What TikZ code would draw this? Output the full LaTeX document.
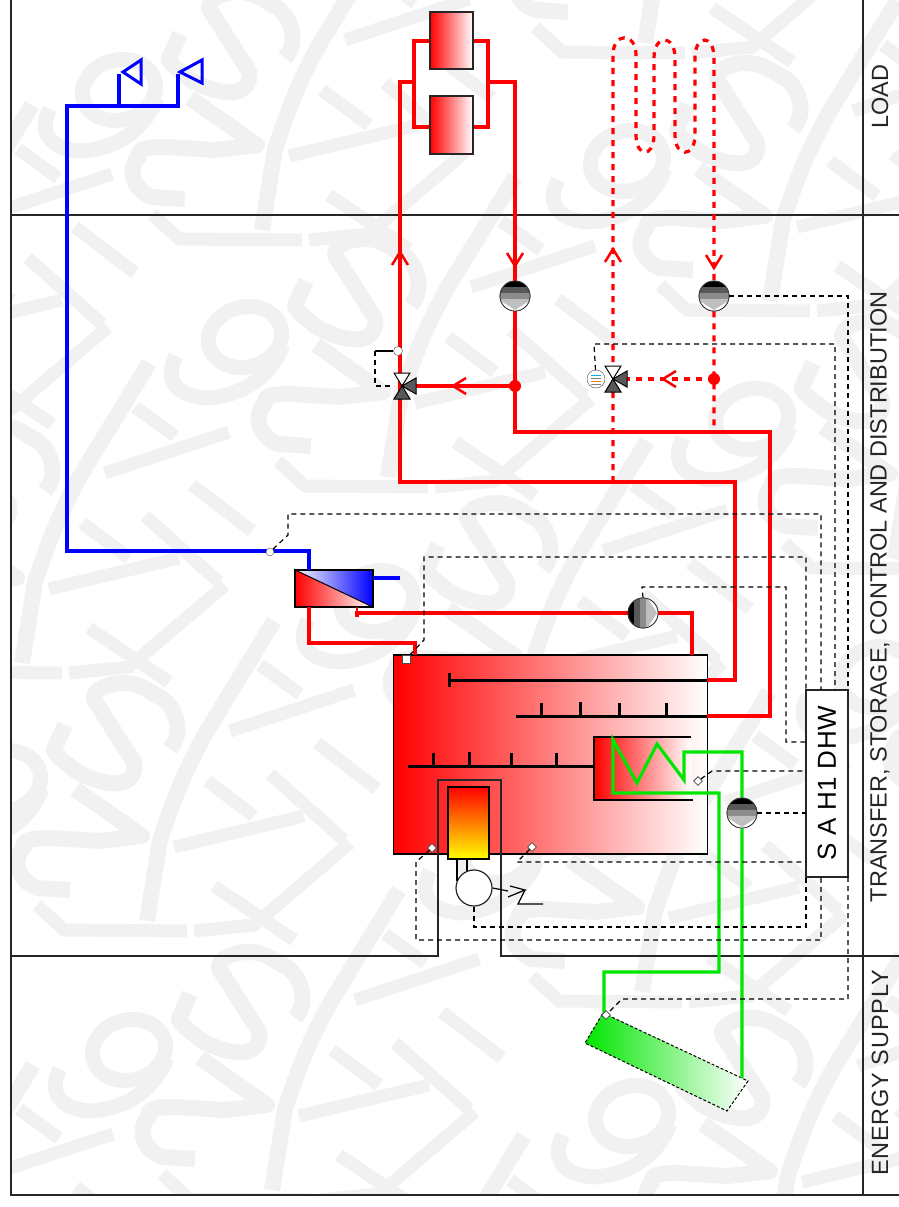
\documentclass[tikz,border=0pt]{standalone}
\usepackage{fontspec}
\setmainfont{Liberation Sans}
\usetikzlibrary{shapes.geometric}
\definecolor{markgray}{RGB}{241,241,241}
\definecolor{solargreen}{RGB}{0,230,0}
\tikzset{
    hot/.style={draw=red, line width=3.2pt},
    hotdash/.style={draw=red, line width=3.2pt, dash pattern=on 6pt off 6pt},
    cold/.style={draw=blue, line width=3.2pt},
    solar/.style={draw=solargreen, line width=3.2pt},
    wire/.style={draw=black, line width=1.2pt, dash pattern=on 5pt off 4pt},
    frameline/.style={draw=black!85, line width=1.5pt},
    lance/.style={draw=black, line width=3pt},
    sensor/.style={diamond, draw=black!70, fill=white, line width=.8pt, inner sep=0pt, minimum size=9pt},
    radiator/.style={rectangle, draw=black!85, line width=1.2pt, left color=red, right color=white,
        inner sep=0pt, minimum width=43pt, minimum height=57pt},
    pumpbase/.style={circle, draw=black!80, fill=white, line width=.8pt, inner sep=0pt, minimum size=30pt},
    pumpdown/.style={pumpbase,
        path picture={
            \begin{scope}[shift={(path picture bounding box.center)}]
                \fill[black] (-16,-16) rectangle (16,-9);
                \fill[black!65] (-16,-9) rectangle (16,-3);
                \fill[black!45] (-16,-3) rectangle (16,3);
                \fill[black!25] (-16,3) rectangle (16,5);
                \fill[black!25] (-14,5) -- (14,5) -- (0,14) -- cycle;
            \end{scope}}},
    pumpright/.style={pumpbase,
        path picture={
            \begin{scope}[shift={(path picture bounding box.center)}]
                \fill[black] (-16,-16) rectangle (-9,16);
                \fill[black!65] (-9,-16) rectangle (-3,16);
                \fill[black!45] (-3,-16) rectangle (3,16);
                \fill[black!25] (3,-16) rectangle (5,16);
                \fill[black!25] (5,-14) -- (5,14) -- (14,0) -- cycle;
            \end{scope}}},
    sidelabel/.style={rotate=90, font=\fontsize{23.5}{24}\selectfont, text=black!85},
    threeway/.pic={
        \draw[black, fill=white, line width=1pt] (-8,-13) -- (8,-13) -- (0,0) -- cycle;
        \draw[black, fill=black!65, line width=1pt] (-8,13) -- (8,13) -- (0,0) -- cycle;
        \draw[black, fill=black!65, line width=1pt] (14,-8) -- (14,8) -- (0,0) -- cycle;
    },
    chevron/.pic={
        \draw[red, line width=2.5pt] (-8,13) -- (0,0) -- (8,13);
    },
    watermark/.pic={
        \draw[markgray, line width=16pt, line join=round]
            (53,14) .. controls (70,-5) and (55,-35) .. (40,-39) .. controls (25,-50) and (15,-52) .. (7,-52)
            .. controls (-15,-52) and (-30,-40) .. (-20,-31) -- (-3,-4) -- (17,27)
            .. controls (20,45) and (5,50) .. (-7,48) .. controls (-25,46) and (-45,35) .. (-47,31)
            .. controls (-60,22) and (-66,15) .. (-62,12) -- (-52,-10);
        \draw[markgray, line width=16pt, line join=round]
            (-42,54) -- (25,101) -- (-17,106) -- (-67,103) .. controls (-85,103) and (-95,105) .. (-93,112)
            .. controls (-105,125) and (-100,145) .. (-80,153) -- (-47,155);
        \draw[markgray, line width=16pt, line join=round]
            (157,-114) -- (90,-4) .. controls (65,40) and (55,70) .. (43,105) -- (30,186);
        \draw[markgray, line width=13pt] (-80,170) -- (-53,195) -- (70,196);
        \draw[markgray, line width=13pt] (233,108) -- (137,190) -- (77,196);
        \draw[markgray, line width=13pt] (97,151) -- (177,205);
        \draw[markgray, line width=13pt] (90,46) -- (137,81);
        \draw[markgray, line width=13pt] (57,112) -- (187,81);
        \draw[markgray, line width=13pt] (153,39) -- (227,105);
        \draw[markgray, line width=13pt] (200,8) -- (260,54);
        \draw[markgray, line width=13pt] (143,-70) -- (183,-41);
        \draw[markgray, line width=13pt] (113,-4) -- (237,-45);
        \draw[markgray, line width=15pt, rotate around={15:(-113,46)}] (-113,46) ellipse (37 and 30);
        \draw[markgray, line width=15pt, line join=round]
            (-75,54) .. controls (-85,80) and (-110,105) .. (-152,107)
            .. controls (-180,105) and (-195,90) .. (-182,65);
    },
}
\begin{document}
\begin{tikzpicture}[x=1pt, y=-1pt]
    \useasboundingbox (0,0) rectangle (899,1207);
    % background pattern
    \begin{scope}
        \clip (11,0) rectangle (899,1195);
        \foreach \markx/\marky in {232/44, 358/291, 490/555, 612/806, 745/1070, -8/477, 117/735, 242/1004,
                367/1250, 740/115, 865/373, 990/631, 615/-143, 107/-214, -125/219, -124/1179, 1115/889, 870/1327} {
            \pic at (\markx,\marky) {watermark};
        }
    \end{scope}

    % frame
    \draw[frameline] (11,0) -- (11,1195) -- (899,1195);
    \draw[frameline] (863,0) -- (863,1195);
    \draw[frameline] (11,215) -- (899,215);
    \draw[frameline] (11,956) -- (438,956) -- (438,780) -- (501,780) -- (501,956) -- (899,956);
    \node[sidelabel] (loadlabel) at (880,97) {LOAD};
    \node[sidelabel] (transferlabel) at (880,597) {TRANSFER, STORAGE, CONTROL AND DISTRIBUTION};
    \node[sidelabel] (energylabel) at (880,1073) {\addfontfeature{LetterSpace=3.5}ENERGY SUPPLY};

    % tank
    \node[rectangle, draw=black, line width=1.2pt, left color=red, right color=white, inner sep=0pt,
        minimum width=314pt, minimum height=199pt] (tank) at (550.5,754.5) {};
    \shade[left color=red, right color=white] (594,737) rectangle (691,800);
    \draw[black, line width=1.5pt] (691,737) -- (594,737) -- (594,800) -- (693,800);
    \draw[frameline] (438,855) -- (438,780) -- (501,780) -- (501,855);

    \coordinate (lanceA) at (707,680);
    \coordinate (lanceB) at (707,716);
    \draw[lance] (449,680) -- (lanceA);
    \draw[lance] (449,673) -- (449,687);
    \draw[lance] (516,716) -- (lanceB);
    \foreach \tickx/\ticky in {541/703, 580/702, 619/703, 666/703} {
        \draw[lance] (\tickx,\ticky) -- (\tickx,716);
    }
    \draw[lance] (408,766) -- (594,766);
    \foreach \tickx/\ticky in {433/753, 469/752, 511/753, 556/753} {
        \draw[lance] (\tickx,\ticky) -- (\tickx,766);
    }

    % burner
    \node[rectangle, draw=black, line width=1.2pt, inner sep=0pt, minimum width=41pt, minimum height=72pt,
        top color=red, bottom color=yellow, middle color=orange] (fire) at (468.5,823) {};
    \node[circle, draw=black!85, fill=white, line width=1.2pt, inner sep=0pt, minimum size=36pt] (burner) at (474,888) {};
    \draw[black, line width=1.2pt] (457,860) -- (457,881);
    \draw[black, line width=1.2pt] (467,860) -- (467,871);
    \draw[black, line width=1.2pt] (burner.east) -- (508,891);
    \draw[black, line width=1.2pt] (510,886) -- (525,890) -- (508,897);
    \draw[black, line width=1.2pt] (525,890) -- (518,904) -- (543,904);

    % collector
    \shade[left color=solargreen, right color=white] (603,1013) -- (748,1081) -- (727,1111) -- (585,1043) -- cycle;
    \draw[black, line width=1pt, densely dashed] (603,1013) -- (748,1081) -- (727,1111) -- (585,1043) -- cycle;
    \coordinate (collectorA) at (604,1016);
    \coordinate (collectorB) at (742,1078);

    % heat exchanger
    \node[rectangle, inner sep=0pt, minimum width=78pt, minimum height=37pt] (hx) at (334,588.5) {};
    \shade[left color=white, right color=blue] (hx.north west) -- (hx.north east) -- (hx.south east) -- cycle;
    \shade[left color=red, right color=white] (hx.north west) -- (hx.south west) -- (hx.south east) -- cycle;
    \draw[black, line width=1.5pt] (hx.north west) rectangle (hx.south east);
    \draw[black, line width=1pt] (hx.north west) -- (hx.south east);

    % radiators
    \node[radiator] (radA) at (451.5,40.5) {};
    \node[radiator, minimum height=58pt] (radB) at (451.5,125) {};

    % components on the pipes
    \node[pumpdown] (pumpA) at (515,296) {};
    \node[pumpdown] (pumpB) at (714,296) {};
    \node[pumpdown] (pumpC) at (742,813) {};
    \node[pumpright] (pumpD) at (643,613) {};
    \coordinate (valveA) at (402,386);
    \coordinate (valveB) at (613,379);
    \coordinate (teeA) at (515,386);
    \coordinate (teeB) at (714,379);

    % hot water pipes
    \draw[hot] (lanceA) -- (735,680) -- (735,482) -- (400,482) -- (400,82) -- (414,82);
    \draw[hot] (lanceB) -- (770,716) -- (770,432) -- (515,432) -- (teeA) -- (pumpA) -- (515,82) -- (488,82);
    \draw[hot] (teeA) -- (valveA);
    \draw[hot] (radA.west |- 0,41) -- (414,41) -- (414,127) -- (radB.west |- 0,127);
    \draw[hot] (radA.east |- 0,41) -- (488,41) -- (488,127) -- (radB.east |- 0,127);
    \fill[red] (teeA) circle (6);
    \fill[red] (teeB) circle (6);

    % floor heating
    \draw[hotdash] (613,482) -- (613,55) .. controls (613,32) and (636,32) .. (636,55) -- (636,135)
        .. controls (636,158) and (654,158) .. (654,135) -- (654,58)
        .. controls (654,34) and (675,34) .. (675,58) -- (675,135)
        .. controls (675,158) and (695,158) .. (695,135) -- (695,58)
        .. controls (695,34) and (714,34) .. (714,58) -- (pumpB) -- (714,432);
    \draw[hotdash] (teeB) -- (valveB);

    % primary circuit
    \draw[hot] (hx.south -| 309,0) -- (309,643) -- (415,643) -- (415,655);
    \draw[hot] (357,617) -- (357,613) -- (pumpD) -- (692,613) -- (692,655);
    \draw[hot, line width=1.5pt] (357,607) -- (357,613);

    % cold water
    \draw[cold] (hx.north -| 309,0) -- (309,551) -- (67,551) -- (67,106) -- (178,106) -- (178,74);
    \draw[cold] (119,106) -- (119,74);
    \draw[cold] (hx.east |- 0,578) -- (400,578);
    \draw[draw=blue, line width=3pt, line join=miter] (123,72) -- (141,60) -- (141,84) -- cycle;
    \draw[draw=blue, line width=3pt, line join=miter] (180,72) -- (202,60) -- (202,83) -- cycle;

    % solar circuit
    \draw[solar] (collectorA) -- (604,972) -- (719,972) -- (719,793) -- (613,793) -- (613,740)
        -- (637,783) -- (657,744) -- (684,780) -- (684,752) -- (742,752) -- (pumpC) -- (collectorB);

    \foreach \chevx/\chevy/\chevrot in {400/252/0, 613/249/0, 515/266/180, 714/268/180, 453/386/90, 663/379/90} {
        \pic[rotate=\chevrot] at (\chevx,\chevy) {chevron};
    }
    \node[pumpdown] at (pumpA) {};
    \node[pumpdown] at (pumpB) {};
    \node[pumpdown] at (pumpC) {};
    \node[pumpright] at (pumpD) {};
    \pic at (valveA) {threeway};
    \pic at (valveB) {threeway};

    % controller
    \node[rectangle, rotate=90, draw=black!85, fill=white, line width=1.5pt, inner sep=0pt,
        minimum width=187pt, minimum height=42pt, font=\fontsize{26}{28}\selectfont] (ctrl) at (827,783.5)
        {\addfontfeature{LetterSpace=2}S A H1 DHW};

    % sensors
    \node[circle, draw=black!70, fill=white, inner sep=0pt, minimum size=8pt] (flowsens) at (270,552) {};
    \node[circle, draw=black!70, fill=white, inner sep=0pt, minimum size=9pt] (mixsens) at (398,351) {};
    \node[rectangle, draw=black!70, fill=white, inner sep=0pt, minimum size=8pt] (tanktop) at (406,659) {};
    \node[sensor] (tankleft) at (432,848) {};
    \node[sensor] (tankmid) at (532,847) {};
    \node[sensor] (coilsens) at (698,781) {};
    \node[sensor] (colsens) at (606,1015) {};
    \node[circle, draw=black!70, fill=white, inner sep=0pt, minimum size=18pt] (actuator) at (596,379) {};
    \foreach \stripy/\stripc in {375/cyan, 378/gray, 381/orange, 384/gray} {
        \draw[\stripc, line width=.8pt] (591,\stripy) -- (601,\stripy);
    }

    % control wires
    \draw[wire] (flowsens) -- (288,535) -- (288,514) -- (821,514) -- (821,690);
    \draw[wire] (tanktop) -- (424,640) -- (424,557) -- (806,557) -- (806,690);
    \draw[wire] (pumpD.north) -- (642,587) -- (786,587) -- (786,742) -- (806,742);
    \draw[wire] (actuator) -- (594,344) -- (835,344) -- (835,690);
    \draw[wire] (pumpB) -- (848,296) -- (848,690);
    \draw[wire] (coilsens) -- (712,771) -- (806,771);
    \draw[wire] (pumpC) -- (806,813);
    \draw[wire] (tankmid) -- (517,862) -- (806,862);
    \draw[wire] (tankleft) -- (416,862) -- (416,940) -- (821,940) -- (821,877);
    \draw[wire] (burner) -- (474,927) -- (806,927) -- (806,877);
    \draw[wire] (848,877) -- (848,999) -- (622,999) -- (colsens);
    \draw[black, line width=1.2pt] (mixsens) -- (375,351);
    \draw[wire] (375,351) -- (375,386) -- (394,386);
\end{tikzpicture}
\end{document}
